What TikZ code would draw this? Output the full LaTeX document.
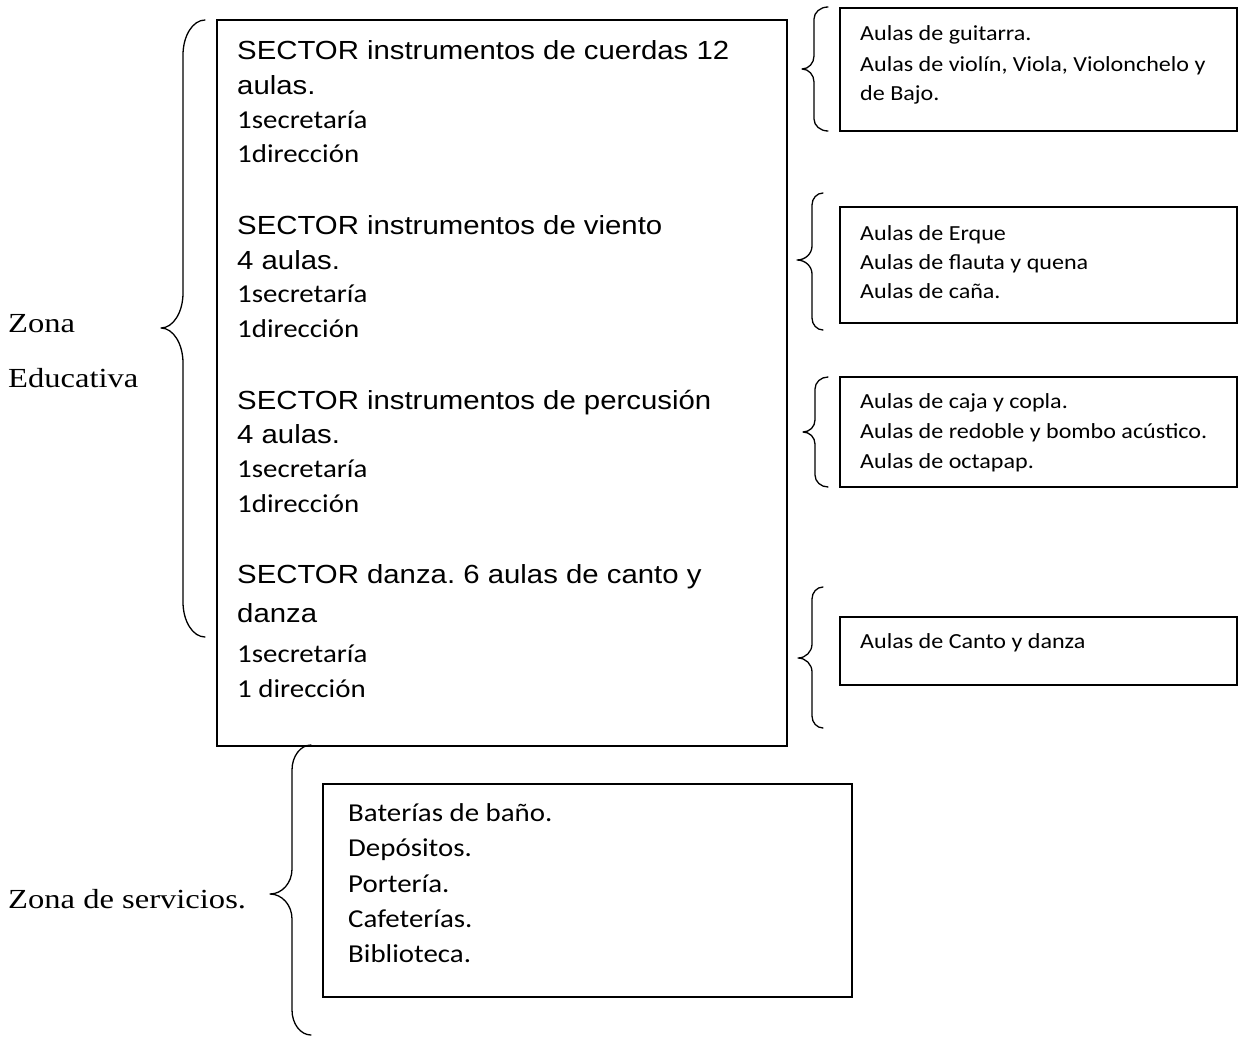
\documentclass[tikz,border=0pt]{standalone}
\usepackage{fontspec}
\setmainfont{Liberation Serif}
\newfontfamily\arialf[FakeStretch=1.12]{Liberation Sans}
\newfontfamily\calf[FakeStretch=1.12]{Carlito}
\newfontfamily\timesf[FakeStretch=1.18]{Liberation Serif}
\frenchspacing
% brace: #1 xe, #2 xv, #3 xt, #4 ytop, #5 ymid, #6 ybot, #7 end radius, #8 mid radius
\newcommand\mybrace[8]{%
  \draw[brc] (#1,#4) .. controls ({#1-0.552*(#1-#2)},#4) and (#2,{#4+0.448*#7}) .. (#2,{#4+#7})
    -- (#2,{#5-#8}) .. controls (#2,{#5-0.448*#8}) and ({#3+0.552*(#2-#3)},#5) .. (#3,#5)
    .. controls ({#3+0.552*(#2-#3)},#5) and (#2,{#5+0.448*#8}) .. (#2,{#5+#8})
    -- (#2,{#6-#7}) .. controls (#2,{#6-0.448*#7}) and ({#1-0.552*(#1-#2)},#6) .. (#1,#6);}
\begin{document}
\begin{tikzpicture}[x=1pt,y=-1pt,
  box/.style={draw=black, line width=1.6pt, fill=none, inner sep=0pt},
  brc/.style={draw=black, line width=1.3pt, line cap=round, line join=round},
  ar/.style={font=\arialf\fontsize{26.2}{30}\selectfont, inner sep=0pt, anchor=base west},
  cl/.style={font=\calf\fontsize{25.8}{30}\selectfont, inner sep=0pt, anchor=base west},
  cs/.style={font=\calf\fontsize{21.5}{24}\selectfont, inner sep=0pt, anchor=base west},
  tm/.style={font=\timesf\fontsize{27.6}{30}\selectfont, inner sep=0pt, anchor=base west}]
\useasboundingbox[fill=white] (0,0) rectangle (1242,1036);

% boxes
\node[box, minimum width=570pt, minimum height=726pt] (main) at (502,383) {};
\node[box, minimum width=397pt, minimum height=123pt] (b1) at (1038.5,69.5) {};
\node[box, minimum width=397pt, minimum height=116pt] (b2) at (1038.5,265) {};
\node[box, minimum width=397pt, minimum height=110pt] (b3) at (1038.5,432) {};
\node[box, minimum width=397pt, minimum height=68pt] (b4) at (1038.5,651) {};
\node[box, minimum width=529pt, minimum height=213pt] (serv) at (587.5,890.5) {};

% main box text
\node[ar] (m1) at (237,59) {SECTOR instrumentos de cuerdas 12};
\node[ar] (m2) at (237,94) {aulas.};
\node[cl] (m3) at (237,128) {1secretaría};
\node[cl] (m4) at (237,162) {1dirección};
\node[ar] (m5) at (237,234) {SECTOR instrumentos de viento};
\node[ar] (m6) at (237,269) {4 aulas.};
\node[cl] (m7) at (237,302) {1secretaría};
\node[cl] (m8) at (237,337) {1dirección};
\node[ar] (m9) at (237,409) {SECTOR instrumentos de percusión};
\node[ar] (m10) at (237,443) {4 aulas.};
\node[cl] (m11) at (237,477) {1secretaría};
\node[cl] (m12) at (237,512) {1dirección};
\node[ar] (m13) at (237,583) {SECTOR danza. 6 aulas de canto y};
\node[ar] (m14) at (237,622) {danza};
\node[cl] (m15) at (237,662) {1secretaría};
\node[cl] (m16) at (237,697) {1 dirección};

% right boxes text
\node[cs] (r1) at (860,40) {Aulas de guitarra.};
\node[cs] (r2) at (860,71) {Aulas de violín, Viola, Violonchelo y};
\node[cs] (r3) at (860,100) {de Bajo.};
\node[cs] (r4) at (860,240) {Aulas de Erque};
\node[cs] (r5) at (860,269) {Aulas de flauta y quena};
\node[cs] (r6) at (860,298) {Aulas de caña.};
\node[cs] (r7) at (860,408) {Aulas de caja y copla.};
\node[cs] (r8) at (860,438) {Aulas de redoble y bombo acústico.};
\node[cs] (r9) at (860,468) {Aulas de octapap.};
\node[cs] (r10) at (860,648) {Aulas de Canto y danza};

% services text
\node[cl] (s1) at (348,821) {Baterías de baño.};
\node[cl] (s2) at (348,856) {Depósitos.};
\node[cl] (s3) at (348,892) {Portería.};
\node[cl] (s4) at (348,927) {Cafeterías.};
\node[cl] (s5) at (348,962) {Biblioteca.};

% zone labels
\node[tm] (z1) at (8,332) {Zona};
\node[tm] (z2) at (8,387) {Educativa};
\node[tm] (z3) at (8,908) {Zona de servicios.};

% braces
\mybrace{205}{183}{161}{20}{328}{637}{35}{35}
\mybrace{828}{814}{802}{7}{69}{131}{12}{13}
\mybrace{823}{812}{797}{193}{260}{330}{12}{14}
\mybrace{828}{815}{803}{377}{432}{487}{12}{12}
\mybrace{823}{812}{798}{587}{658}{728}{12}{14}
\mybrace{311}{292}{270}{745}{894}{1035}{25}{25}
\end{tikzpicture}
\end{document}
